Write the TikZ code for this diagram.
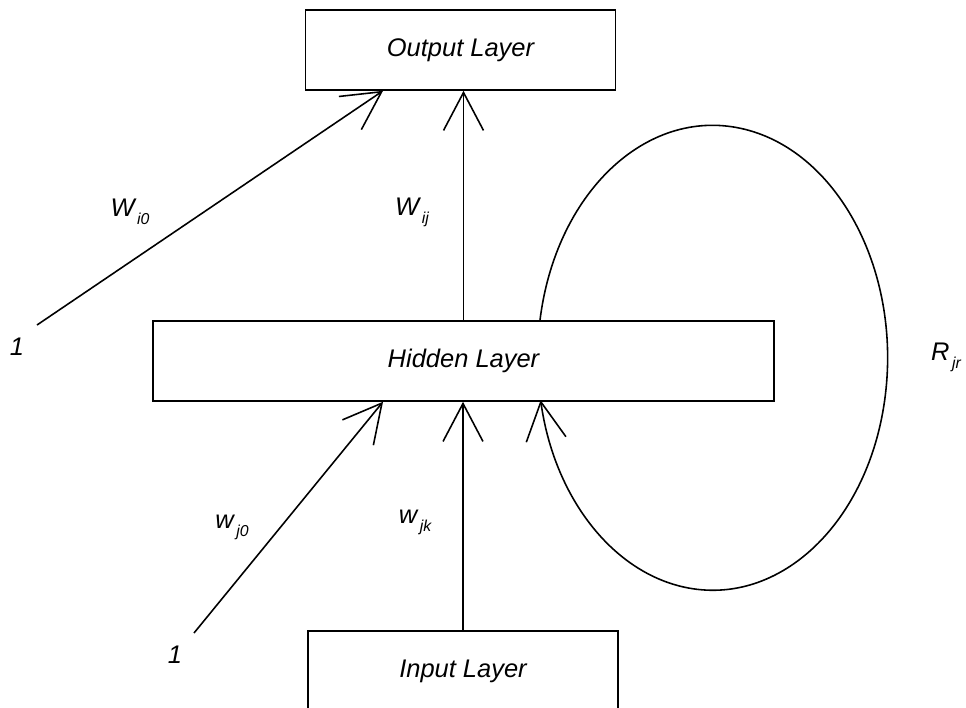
\documentclass[tikz,border=0pt]{standalone}
\usepackage{fontspec}
\setmainfont{Liberation Sans}
\usetikzlibrary{arrows.meta}
\newcommand{\wsub}[2]{\textit{#1}\raisebox{-0.6ex}{\fontsize{9}{9}\selectfont\textit{\,#2}}}

\begin{document}
\begin{tikzpicture}[x=0.02cm,y=-0.02cm,
    layer/.style={draw,line width=0.9pt,minimum width=6.2cm,minimum height=1.6cm,
      font=\fontsize{14.5}{16}\selectfont\itshape},
    conn/.style={line width=0.9pt,-{Straight Barb[length=0.76cm,width=0.8cm,line width=0.9pt]}},
    lab/.style={font=\fontsize{14.5}{16}\selectfont\itshape}]
	\useasboundingbox (0,0) rectangle (966,707);
	\clip (0,0) rectangle (966,707);
	% layers
	\node[layer] (out) at (460.5,50) {Output Layer};
	\node[layer,minimum width=12.42cm] (hid) at (463.5,361) {Hidden Layer};
	\node[layer] (in) at (463,671) {Input Layer};
	% bias inputs
	\node[lab] (one1) at (17,347) {1};
	\node[lab] (one2) at (175,655) {1};
	\coordinate (bias1) at (37,325);
	\coordinate (bias2) at (194,633);
	% weights
	\draw[conn] (bias1) -- ([xshift=-1.55cm]out.south);
	\draw[conn] (hid.north) -- (hid.north |- out.south);
	\draw[conn] (bias2) -- ([xshift=-1.61cm]hid.south);
	\draw[conn] (in.north) -- (in.north |- hid.south);
	\draw[conn] ([xshift=1.53cm]hid.north) arc[start angle=170.7,end angle=-169.5,x radius=3.5cm,y radius=4.65cm];
	% labels
	\node[lab] (wi0) at (130,212) {\wsub{W}{i0}};
	\node[lab] (wij) at (412,212) {\wsub{W}{ij}};
	\node[lab] (rjr) at (946,357) {\wsub{R}{jr}};
	\node[lab] (wj0) at (232,527) {\wsub{w}{j0}};
	\node[lab] (wjk) at (415,522) {\wsub{w}{jk}};
\end{tikzpicture}
\end{document}
